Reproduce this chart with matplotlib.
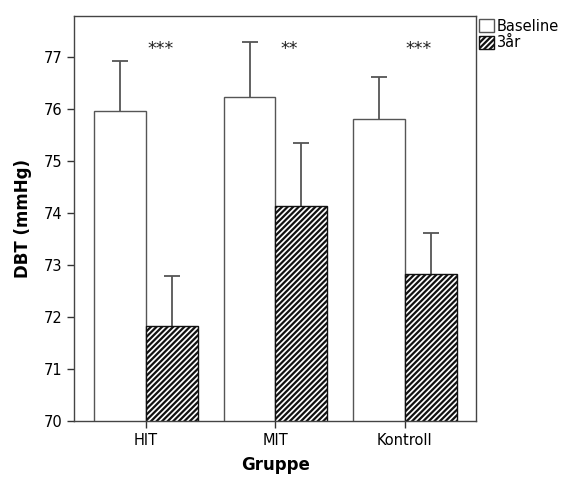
import matplotlib.pyplot as plt
import numpy as np

groups = ["HIT", "MIT", "Kontroll"]
baseline = [75.97, 76.24, 75.81]
baseline_err = [0.95, 1.05, 0.81]
year3 = [71.82, 74.13, 72.83]
year3_err = [0.96, 1.22, 0.78]
stars = ["***", "**", "***"]
star_y = 77.16

plt.rcParams['hatch.linewidth'] = 1.6
plt.rcParams['font.family'] = 'DejaVu Sans'

fig = plt.figure(figsize=(5.68, 4.79), dpi=100)
ax = fig.add_axes([0.1303, 0.1217, 0.708, 0.8455])

x = np.arange(len(groups))
w = 0.4
line_col = '#555555'

ax.bar(x - w / 2, baseline, w, color='white', edgecolor=line_col, lw=1,
       label='Baseline', zorder=2)
ax.bar(x + w / 2, year3, w, color='white', edgecolor='#111111', lw=1, hatch='//////',
       label='3år', zorder=2)

# only the upper half of the error bars is shown
for xs, vals, errs in [(x - w / 2, baseline, baseline_err), (x + w / 2, year3, year3_err)]:
    _, caps, _ = ax.errorbar(xs, vals, yerr=[np.zeros(3), errs], fmt='none',
                             ecolor=line_col, elinewidth=1.3, capsize=5.5,
                             capthick=1.3, zorder=1)
    caps[0].set_visible(False)

for xi, s in zip(x, stars):
    ax.text(xi + 0.11, star_y, s, ha='center', va='center', fontsize=12.5, color='#222222')

ax.set_ylim(70, 77.8)
ax.set_xlim(-0.556, 2.551)
ax.set_xticks(x)
ax.set_xticklabels(groups)
ax.set_yticks(range(70, 78))
ax.tick_params(axis='both', labelsize=10.5, color='#333333', length=5, width=1)
for sp in ax.spines.values():
    sp.set_color('#444444')
    sp.set_linewidth(1)

ax.set_ylabel("DBT (mmHg)", fontsize=12, fontweight='bold', labelpad=8)
ax.set_xlabel("Gruppe", fontsize=12, fontweight='bold', labelpad=6)

ax.legend(loc='upper left', bbox_to_anchor=(1.0, 1.0), borderaxespad=0,
          frameon=False, fontsize=10.5, handlelength=1.0, handleheight=1.0,
          handletextpad=0.2, labelspacing=0.1, borderpad=0.2)

fig.savefig("out.png", dpi=100)
